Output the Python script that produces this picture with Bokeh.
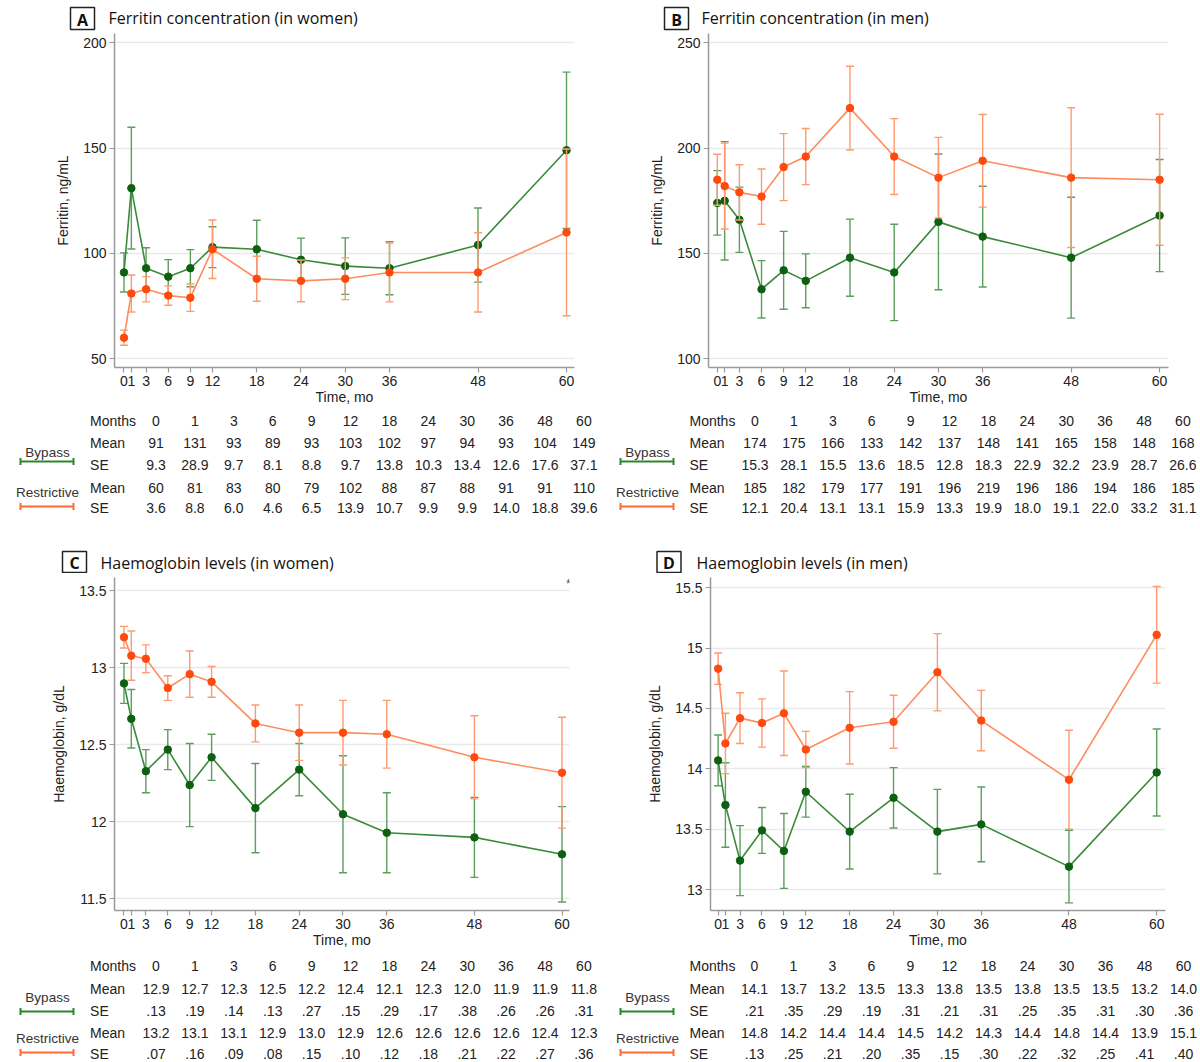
import numpy as np
from bokeh.plotting import figure
from bokeh.models import Range1d, FixedTicker, ColumnDataSource, NumeralTickFormatter
from bokeh.layouts import column, row
from bokeh.embed import file_html
from bokeh.resources import INLINE
from bokeh.core.properties import value

# ---------------- data ----------------
months = [0, 1, 3, 6, 9, 12, 18, 24, 30, 36, 48, 60]

# A: Ferritin (women)
fw_bypass_mean = [91, 131, 93, 89, 93, 103, 102, 97, 94, 93, 104, 149]
fw_bypass_se = [9.3, 28.9, 9.7, 8.1, 8.8, 9.7, 13.8, 10.3, 13.4, 12.6, 17.6, 37.1]
fw_restr_mean = [60, 81, 83, 80, 79, 102, 88, 87, 88, 91, 91, 110]
fw_restr_se = [3.6, 8.8, 6.0, 4.6, 6.5, 13.9, 10.7, 9.9, 9.9, 14.0, 18.8, 39.6]

# B: Ferritin (men)
fm_bypass_mean = [174, 175, 166, 133, 142, 137, 148, 141, 165, 158, 148, 168]
fm_bypass_se = [15.3, 28.1, 15.5, 13.6, 18.5, 12.8, 18.3, 22.9, 32.2, 23.9, 28.7, 26.6]
fm_restr_mean = [185, 182, 179, 177, 191, 196, 219, 196, 186, 194, 186, 185]
fm_restr_se = [12.1, 20.4, 13.1, 13.1, 15.9, 13.3, 19.9, 18.0, 19.1, 22.0, 33.2, 31.1]

# C: Haemoglobin (women) - table values and plotted (unrounded) means
hw_bypass_mean = [12.9, 12.7, 12.3, 12.5, 12.2, 12.4, 12.1, 12.3, 12.0, 11.9, 11.9, 11.8]
hw_bypass_se = [.13, .19, .14, .13, .27, .15, .29, .17, .38, .26, .26, .31]
hw_restr_mean = [13.2, 13.1, 13.1, 12.9, 13.0, 12.9, 12.6, 12.6, 12.6, 12.6, 12.4, 12.3]
hw_restr_se = [.07, .16, .09, .08, .15, .10, .12, .18, .21, .22, .27, .36]
hw_bypass_plot = [12.90, 12.67, 12.33, 12.47, 12.24, 12.42, 12.09, 12.34, 12.05, 11.93, 11.90, 11.79]
hw_restr_plot = [13.20, 13.08, 13.06, 12.87, 12.96, 12.91, 12.64, 12.58, 12.58, 12.57, 12.42, 12.32]

# D: Haemoglobin (men)
hm_bypass_mean = [14.1, 13.7, 13.2, 13.5, 13.3, 13.8, 13.5, 13.8, 13.5, 13.5, 13.2, 14.0]
hm_bypass_se = [.21, .35, .29, .19, .31, .21, .31, .25, .35, .31, .30, .36]
hm_restr_mean = [14.8, 14.2, 14.4, 14.4, 14.5, 14.2, 14.3, 14.4, 14.8, 14.4, 13.9, 15.1]
hm_restr_se = [.13, .25, .21, .20, .35, .15, .30, .22, .32, .25, .41, .40]
hm_bypass_plot = [14.07, 13.70, 13.24, 13.49, 13.32, 13.81, 13.48, 13.76, 13.48, 13.54, 13.19, 13.97]
hm_restr_plot = [14.83, 14.21, 14.42, 14.38, 14.46, 14.16, 14.34, 14.39, 14.80, 14.40, 13.91, 15.11]

ferritin_ticks = {"A": [50, 100, 150, 200], "B": [100, 150, 200, 250]}
hb_ticks = {"C": [11.5, 12, 12.5, 13, 13.5], "D": [13, 13.5, 14, 14.5, 15, 15.5]}

titles = {"A": "Ferritin concentration (in women)", "B": "Ferritin concentration (in men)",
          "C": "Haemoglobin levels (in women)", "D": "Haemoglobin levels (in men)"}

# ---------------- styles ----------------
G_LINE, G_DOT, G_ERR = "#3a8a3a", "#0d5f12", "#5c9e5c"
O_LINE, O_DOT, O_ERR = "#ff8c5e", "#ff4a0f", "#ff9a70"
AX = "#9a9a9a"
TXT = "#222222"
SANS = "Liberation Sans"
TITLE_FONT = "Open Sans"


def rng(p0, v0, p1, v1, a, b):
    s = (v1 - v0) / (p1 - p0)
    return v0 + (a - p0) * s, v0 + (b - p0) * s


def blank(H):
    f = figure(width=600, height=H, x_range=Range1d(0, 600), y_range=Range1d(H, 0),
               x_axis_type=None, y_axis_type=None, output_backend="svg",
               toolbar_location=None, min_border=0)
    f.outline_line_color = None
    f.background_fill_color = "white"
    return f


def make_header(H, letter, box_c, box_wh, title_x, title_y):
    h = blank(H)
    h.rect(x=[box_c[0]], y=[box_c[1]], width=box_wh[0], height=box_wh[1],
           fill_color="white", line_color="#222222", line_width=1.5)
    h.text(x=[box_c[0]], y=[box_c[1] + 1], text=[letter], text_font=value(TITLE_FONT),
           text_font_style="bold", text_font_size="16px", text_color="#111111",
           text_align="center", text_baseline="middle")
    h.text(x=[title_x], y=[title_y], text=[titles[letter]], text_font=value(TITLE_FONT),
           text_font_size="16px", text_color="#111111", text_align="left",
           text_baseline="middle")
    return h


def make_panel(H, frame, xcal, ycal, yticks, ylabel, bp_mean, bp_se, rs_mean, rs_se,
               star=None):
    L, R, T, B = frame
    x0, x1 = rng(xcal[0], 0, xcal[1], 60, L, R)
    yb, yt = rng(ycal[0], ycal[1], ycal[2], ycal[3], B, T)
    p = figure(width=600, height=H, x_range=Range1d(x0, x1), y_range=Range1d(yb, yt),
               output_backend="svg", toolbar_location=None,
               min_border_left=round(L), min_border_right=600 - round(R),
               min_border_top=round(T), min_border_bottom=H - round(B))
    p.outline_line_color = None
    p.background_fill_color = "white"
    p.xgrid.visible = False
    p.ygrid.grid_line_color = "#e9e9e9"
    p.ygrid.grid_line_width = 1.5
    p.ygrid.ticker = FixedTicker(ticks=yticks)
    p.xaxis.ticker = FixedTicker(ticks=months)
    p.yaxis.ticker = FixedTicker(ticks=yticks)
    p.yaxis.formatter = NumeralTickFormatter(format="0.[0]")
    for ax in (p.xaxis[0], p.yaxis[0]):
        ax.axis_line_color = AX
        ax.axis_line_width = 1.5
        ax.major_tick_line_color = AX
        ax.major_tick_line_width = 1.2
        ax.major_tick_out = 5
        ax.major_tick_in = 0
        ax.minor_tick_line_color = None
        ax.major_label_text_font = SANS
        ax.major_label_text_font_size = "14px"
        ax.major_label_text_color = TXT
        ax.axis_label_text_font = SANS
        ax.axis_label_text_font_size = "14px"
        ax.axis_label_text_font_style = "normal"
        ax.axis_label_text_color = TXT
    p.xaxis.axis_label = "Time, mo"
    p.xaxis.major_label_standoff = 3
    p.xaxis.axis_label_standoff = 0
    p.yaxis.axis_label = ylabel
    p.yaxis.major_label_standoff = 3
    p.yaxis.axis_label_standoff = 9

    for mean, se, lc, dc, ec in [(bp_mean, bp_se, G_LINE, G_DOT, G_ERR),
                                 (rs_mean, rs_se, O_LINE, O_DOT, O_ERR)]:
        m = np.array(mean, dtype=float)
        s = np.array(se, dtype=float)
        src = ColumnDataSource(dict(x=months, y=m, lo=m - s, hi=m + s))
        p.segment(x0="x", y0="lo", x1="x", y1="hi", source=src, line_color=ec, line_width=1.4)
        p.scatter(x="x", y="hi", source=src, marker="dash", size=8, line_color=ec, line_width=1.4)
        p.scatter(x="x", y="lo", source=src, marker="dash", size=8, line_color=ec, line_width=1.4)
        p.line(x="x", y="y", source=src, line_color=lc, line_width=1.6)
        p.scatter(x="x", y="y", source=src, size=7.5, fill_color=dc, line_color=dc)

    if star is not None:
        sx = x0 + (star[0] - L) * (x1 - x0) / (R - L)
        sy = yt + (star[1] - T) * (yb - yt) / (B - T)
        p.text(x=[sx], y=[sy], text=["*"], text_font=value(SANS), text_font_size="13px",
               text_color="#555555", text_align="center", text_baseline="middle")
    return p


def fmt_int(v):
    return f"{v:.0f}"


def fmt_1(v):
    return f"{v:.1f}"


def fmt_se2(v):
    return f"{v:.2f}".lstrip("0")


def make_table(H, rows_y, legend_y, col0, dcol, label_x, bp_mean, bp_se, rs_mean, rs_se,
               mfmt, sfmt):
    t = blank(H)
    xs = [col0 + dcol * i for i in range(len(months))]
    t.text(x=[label_x] * 5, y=rows_y, text=["Months", "Mean", "SE", "Mean", "SE"],
           text_font=value(SANS), text_font_size="14px", text_color=TXT,
           text_align="left", text_baseline="middle")
    cells_x, cells_y, cells_t = [], [], []
    rows = [[str(m) for m in months], [mfmt(v) for v in bp_mean], [sfmt(v) for v in bp_se],
            [mfmt(v) for v in rs_mean], [sfmt(v) for v in rs_se]]
    for r, vals in enumerate(rows):
        for i, s in enumerate(vals):
            cells_x.append(xs[i])
            cells_y.append(rows_y[r])
            cells_t.append(s)
    t.text(x=cells_x, y=cells_y, text=cells_t, text_font=value(SANS), text_font_size="14px",
           text_color=TXT, text_align="center", text_baseline="middle")
    lb_y, lg_y, lr_y, lo_y = legend_y
    t.text(x=[47, 47], y=[lb_y, lr_y], text=["Bypass", "Restrictive"], text_font=value(SANS),
           text_font_size="13.5px", text_color="#333333", text_align="center",
           text_baseline="middle")
    for yy, c in [(lg_y, "#2e862e"), (lo_y, "#ff6a35")]:
        t.segment(x0=[20], y0=[yy], x1=[73], y1=[yy], line_color=c, line_width=2)
        t.segment(x0=[20, 73], y0=[yy - 3.5, yy - 3.5], x1=[20, 73], y1=[yy + 3.5, yy + 3.5],
                  line_color=c, line_width=2)
    return t


HH_T, HP, TT, HH_B, TB = 31, 377, 122, 43, 112

hA = make_header(HH_T, "A", (82, 18), (24, 22), 108, 17)
hB = make_header(HH_T, "B", (76, 18), (24, 22), 101, 17)
hC = make_header(HH_B, "C", (74, 31.5), (24, 21), 100, 32)
hD = make_header(HH_B, "D", (68.5, 31.5), (24, 21), 96, 32)

pA = make_panel(HP, (113.5, 574, 2, 336), (123, 566), (11.3, 200, 327.3, 50),
                ferritin_ticks["A"], "Ferritin, ng/mL",
                fw_bypass_mean, fw_bypass_se, fw_restr_mean, fw_restr_se)
pB = make_panel(HP, (107.7, 568.5, 2, 336), (116.5, 559.6), (11.3, 250, 327.3, 100),
                ferritin_ticks["B"], "Ferritin, ng/mL",
                fm_bypass_mean, fm_bypass_se, fm_restr_mean, fm_restr_se)
pC = make_panel(HP, (113.5, 569, 0, 338), (123, 561.5), (13.7, 13.5, 326.3, 11.5),
                hb_ticks["C"], "Haemoglobin, g/dL",
                hw_bypass_plot, hw_bypass_se, hw_restr_plot, hw_restr_se, star=(568, 6))
pD = make_panel(HP, (110.4, 564.6, 4, 338), (118, 555.8), (14.3, 15.5, 317, 13),
                hb_ticks["D"], "Haemoglobin, g/dL",
                hm_bypass_plot, hm_bypass_se, hm_restr_plot, hm_restr_se)

tA = make_table(TT, [12, 34, 56, 79, 99], (44, 53, 84, 98), 155.5, 38.9, 89.6,
                fw_bypass_mean, fw_bypass_se, fw_restr_mean, fw_restr_se, fmt_int, fmt_1)
tB = make_table(TT, [12, 34, 56, 79, 99], (44, 53, 84, 98), 154.5, 38.9, 89,
                fm_bypass_mean, fm_bypass_se, fm_restr_mean, fm_restr_se, fmt_int, fmt_1)
tC = make_table(TB, [15, 38, 60, 82, 103], (47, 61, 88, 102), 155.5, 38.9, 89.6,
                hw_bypass_mean, hw_bypass_se, hw_restr_mean, hw_restr_se, fmt_1, fmt_se2)
tD = make_table(TB, [15, 38, 60, 82, 103], (47, 61, 88, 102), 154, 39, 89,
                hm_bypass_mean, hm_bypass_se, hm_restr_mean, hm_restr_se, fmt_1, fmt_se2)

layout = column(row(hA, hB), row(pA, pB), row(tA, tB),
                row(hC, hD), row(pC, pD), row(tC, tD))
open("out.html", "w").write(file_html(layout, INLINE))
